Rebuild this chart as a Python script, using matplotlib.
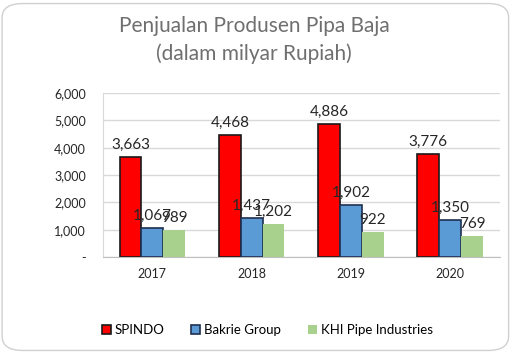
import numpy as np
import matplotlib.pyplot as plt
from matplotlib.patches import FancyBboxPatch
from matplotlib.ticker import FuncFormatter

# Data
years = ['2017', '2018', '2019', '2020']
spindo = [3663, 4468, 4886, 3776]
bakrie = [1067, 1437, 1902, 1350]
khi = [989, 1202, 922, 769]

series = [
    ('SPINDO', spindo, '#FF0000', '#1a1a1a'),
    ('Bakrie Group', bakrie, '#5B9BD5', '#1F2F4F'),
    ('KHI Pipe Industries', khi, '#A9D18E', 'none'),
]

plt.rcParams['font.family'] = ['Lato', 'DejaVu Sans']

fig = plt.figure(figsize=(5.19, 3.54), dpi=100)
ax = fig.add_axes([0.198, 0.274, 0.765, 0.463])

# rounded border around the chart
border = FancyBboxPatch((0.004, 0.01), 0.976, 0.98, boxstyle='round,pad=0,rounding_size=0.04',
                        transform=fig.transFigure, fill=False, edgecolor='#d0d0d0', linewidth=1)
fig.patches.append(border)

x = np.arange(len(years))
w = 0.22
for i, (name, vals, color, edge) in enumerate(series):
    pos = x + (i - 1) * w
    ax.bar(pos, vals, width=w, color=color, edgecolor=edge,
           linewidth=1.2 if edge != 'none' else 0, label=name, zorder=3)
    for p, v in zip(pos, vals):
        ax.text(p, v + 180, f'{v:,}', ha='center', va='bottom', fontsize=11, color='#262626', zorder=4)

ax.set_xlim(-0.5, len(years) - 0.5)
ax.set_ylim(0, 6000)
ax.set_yticks(np.arange(0, 6001, 1000))
ax.yaxis.set_major_formatter(FuncFormatter(lambda v, _: '-' if v == 0 else f'{int(v):,}'))
ax.set_xticks(x)
ax.set_xticklabels(years)
ax.tick_params(axis='both', length=0, labelsize=9, colors='#262626')
ax.tick_params(axis='y', pad=12)
ax.tick_params(axis='x', pad=8)
ax.grid(axis='y', color='#d9d9d9', linewidth=1, zorder=0)
for s in ['top', 'right']:
    ax.spines[s].set_visible(False)
ax.spines['left'].set_color('#d9d9d9')
ax.spines['bottom'].set_color('#bfbfbf')

fig.text(0.49, 0.888, 'Penjualan Produsen Pipa Baja\n(dalam milyar Rupiah)', ha='center', va='center',
         fontsize=15, color='#6f6f6f', linespacing=1.45)

fig.legend(loc='center', bbox_to_anchor=(0.515, 0.068), ncol=3, frameon=False, fontsize=9.5,
           handlelength=0.7, handleheight=0.7, columnspacing=2.0, handletextpad=0.3)

fig.savefig('out.png', dpi=100)
